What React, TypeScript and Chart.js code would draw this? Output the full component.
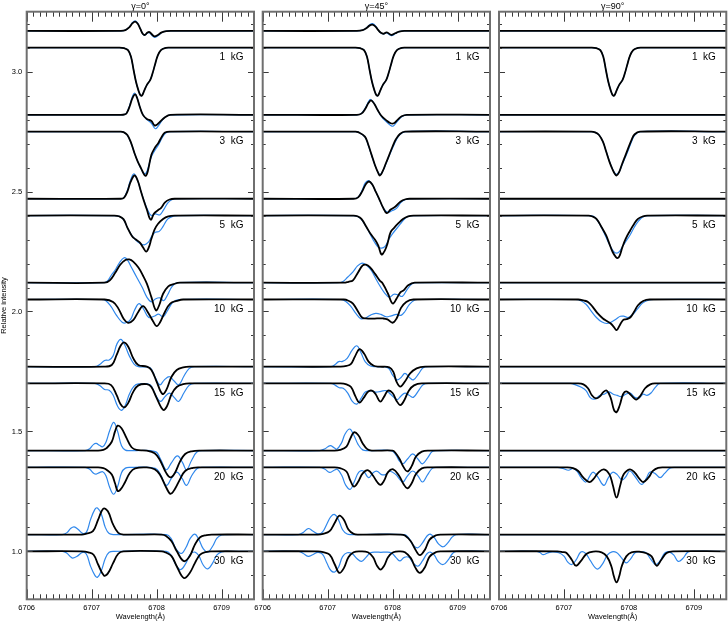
import { useEffect, useRef } from 'react';
import { Chart, registerables } from 'chart.js';

Chart.register(...registerables);

type P = number[][];

// ---------------- data ----------------
const FIELD_LABELS = ['1  kG', '3  kG', '5  kG', '10  kG', '15  kG', '20  kG', '30  kG'];
const I_BASELINES = [3.1, 2.75, 2.4, 2.05, 1.7, 1.35, 1.0];
const V_OFFSET = 0.07;
const PANEL_TITLES = ['γ=0°', 'γ=45°', 'γ=90°'];
const X_TICK_LABELS = [6706, 6707, 6708, 6709];
const Y_TICK_LABELS = [1.0, 1.5, 2.0, 2.5, 3.0];
const X_MIN = 6706;
const X_MAX = 6709.5;
const Y_MIN = 0.8;
const Y_MAX = 3.25;

const FLAT: P = [];

const I_1KG: P = [[6707.42,0],[6707.50,-0.002],[6707.56,-0.01],[6707.605,-0.037],[6707.646,-0.093],[6707.682,-0.141],[6707.718,-0.176],[6707.749,-0.197],[6707.774,-0.2],[6707.81,-0.179],[6707.851,-0.155],[6707.903,-0.134],[6707.938,-0.107],[6707.974,-0.072],[6708.015,-0.035],[6708.067,-0.01],[6708.144,-0.001],[6708.20,0]];

// gamma = 0
const G0_V_BLACK: P[] = [
  [[6707.45,0],[6707.52,0.003],[6707.58,0.015],[6707.63,0.032],[6707.67,0.039],[6707.71,0.03],[6707.75,0.008],[6707.79,-0.013],[6707.82,-0.017],[6707.86,-0.007],[6707.89,-0.005],[6707.93,-0.015],[6707.97,-0.023],[6708.02,-0.017],[6708.08,-0.006],[6708.15,-0.001],[6708.25,0]],
  [[6707.45,0],[6707.51,0.002],[6707.54,0.007],[6707.59,0.039],[6707.63,0.071],[6707.67,0.085],[6707.70,0.07],[6707.74,0.035],[6707.79,0],[6707.85,-0.017],[6707.92,-0.026],[6707.97,-0.044],[6708.01,-0.04],[6708.05,-0.03],[6708.13,-0.01],[6708.21,0]],
  [[6707.45,0],[6707.50,0.005],[6707.55,0.03],[6707.60,0.07],[6707.66,0.097],[6707.71,0.075],[6707.76,0.03],[6707.80,-0.005],[6707.85,-0.045],[6707.91,-0.087],[6707.96,-0.062],[6708.02,-0.048],[6708.07,-0.038],[6708.13,-0.015],[6708.20,-0.003],[6708.28,0]],
  [[6707.20,0],[6707.28,0.01],[6707.36,0.04],[6707.44,0.075],[6707.52,0.095],[6707.58,0.097],[6707.64,0.088],[6707.72,0.063],[6707.79,0.03],[6707.85,-0.004],[6707.92,-0.06],[6707.99,-0.115],[6708.04,-0.094],[6708.10,-0.046],[6708.18,-0.015],[6708.26,-0.006],[6708.36,0]],
  [[6707.18,0],[6707.31,0.007],[6707.385,0.049],[6707.446,0.087],[6707.497,0.101],[6707.564,0.083],[6707.641,0.035],[6707.718,0.007],[6707.85,0],[6707.92,-0.014],[6708.00,-0.062],[6708.09,-0.114],[6708.15,-0.097],[6708.23,-0.042],[6708.31,-0.014],[6708.41,-0.003],[6708.51,0]],
  [[6707.10,0],[6707.18,0.003],[6707.23,0.01],[6707.31,0.037],[6707.36,0.08],[6707.40,0.104],[6707.46,0.093],[6707.54,0.051],[6707.615,0.014],[6707.69,0.003],[6707.85,0],[6707.97,-0.011],[6708.05,-0.039],[6708.15,-0.094],[6708.215,-0.112],[6708.28,-0.094],[6708.36,-0.046],[6708.44,-0.014],[6708.54,-0.003],[6708.67,0]],
  [[6706.85,0],[6706.92,0.004],[6707.02,0.014],[6707.10,0.062],[6707.18,0.108],[6707.25,0.097],[6707.33,0.042],[6707.41,0.007],[6707.49,0],[6708.08,0],[6708.14,-0.005],[6708.23,-0.028],[6708.31,-0.069],[6708.42,-0.111],[6708.51,-0.09],[6708.59,-0.042],[6708.67,-0.011],[6708.77,-0.002],[6708.85,0]],
];
const G0_V_BLUE: P[] = [
  [[6707.45,0],[6707.52,0.003],[6707.58,0.016],[6707.63,0.035],[6707.67,0.042],[6707.71,0.032],[6707.75,0.008],[6707.79,-0.014],[6707.82,-0.018],[6707.86,-0.009],[6707.89,-0.008],[6707.93,-0.019],[6707.97,-0.027],[6708.02,-0.02],[6708.08,-0.007],[6708.15,-0.001],[6708.25,0]],
  [[6707.45,0],[6707.51,0.002],[6707.54,0.008],[6707.59,0.043],[6707.63,0.078],[6707.66,0.091],[6707.70,0.072],[6707.74,0.035],[6707.79,0],[6707.85,-0.02],[6707.92,-0.035],[6707.98,-0.058],[6708.03,-0.045],[6708.08,-0.025],[6708.14,-0.008],[6708.22,0]],
  [[6707.45,0],[6707.50,0.006],[6707.55,0.035],[6707.60,0.078],[6707.65,0.104],[6707.70,0.082],[6707.76,0.03],[6707.81,-0.01],[6707.86,-0.045],[6707.92,-0.07],[6707.98,-0.063],[6708.05,-0.067],[6708.11,-0.045],[6708.18,-0.015],[6708.25,-0.002],[6708.32,0]],
  [[6707.18,0],[6707.24,0.006],[6707.30,0.03],[6707.36,0.052],[6707.42,0.08],[6707.50,0.104],[6707.55,0.095],[6707.62,0.06],[6707.70,0.02],[6707.78,-0.02],[6707.85,-0.06],[6707.92,-0.08],[6707.98,-0.068],[6708.05,-0.063],[6708.11,-0.075],[6708.17,-0.05],[6708.24,-0.015],[6708.32,0]],
  [[6707.05,0],[6707.13,0.01],[6707.20,0.026],[6707.27,0.028],[6707.33,0.045],[6707.39,0.095],[6707.45,0.114],[6707.51,0.09],[6707.58,0.045],[6707.65,0.012],[6707.72,0],[6707.90,-0.005],[6707.98,-0.045],[6708.05,-0.076],[6708.12,-0.055],[6708.20,-0.042],[6708.27,-0.06],[6708.34,-0.076],[6708.42,-0.04],[6708.50,-0.008],[6708.58,0]],
  [[6706.90,0],[6706.97,0.008],[6707.03,0.026],[6707.07,0.03],[6707.12,0.022],[6707.17,0.016],[6707.22,0.035],[6707.28,0.085],[6707.34,0.118],[6707.40,0.08],[6707.46,0.02],[6707.52,0.002],[6707.60,0],[6707.98,-0.004],[6708.06,-0.035],[6708.15,-0.08],[6708.23,-0.05],[6708.32,-0.022],[6708.40,-0.05],[6708.46,-0.08],[6708.54,-0.04],[6708.62,-0.006],[6708.70,0]],
  [[6706.55,0],[6706.62,0.008],[6706.68,0.026],[6706.73,0.032],[6706.79,0.022],[6706.86,0.005],[6706.92,0.01],[6706.98,0.06],[6707.05,0.105],[6707.09,0.111],[6707.15,0.085],[6707.21,0.03],[6707.27,0.004],[6707.35,0],[6708.15,0],[6708.22,-0.015],[6708.30,-0.06],[6708.38,-0.079],[6708.45,-0.055],[6708.52,-0.015],[6708.59,0.002],[6708.65,-0.02],[6708.72,-0.06],[6708.79,-0.073],[6708.86,-0.05],[6708.93,-0.015],[6709.00,-0.002],[6709.08,0]],
];
const G0_I_BLACK: P[] = [
  I_1KG,
  [[6707.45,0],[6707.49,-0.002],[6707.55,-0.014],[6707.61,-0.049],[6707.66,-0.09],[6707.71,-0.125],[6707.76,-0.152],[6707.81,-0.18],[6707.84,-0.183],[6707.87,-0.159],[6707.92,-0.097],[6707.97,-0.069],[6708.03,-0.046],[6708.08,-0.021],[6708.13,-0.004],[6708.21,0]],
  [[6707.35,0],[6707.42,-0.003],[6707.49,-0.015],[6707.55,-0.05],[6707.62,-0.085],[6707.68,-0.1],[6707.74,-0.112],[6707.79,-0.132],[6707.84,-0.15],[6707.88,-0.133],[6707.92,-0.097],[6707.97,-0.058],[6708.02,-0.035],[6708.10,-0.014],[6708.18,-0.003],[6708.28,0]],
  [[6707.20,0],[6707.33,-0.01],[6707.41,-0.037],[6707.49,-0.079],[6707.56,-0.097],[6707.64,-0.086],[6707.72,-0.051],[6707.79,-0.028],[6707.87,-0.055],[6707.95,-0.093],[6708.00,-0.111],[6708.05,-0.097],[6708.13,-0.051],[6708.21,-0.017],[6708.31,-0.006],[6708.41,0]],
  [[6707.18,0],[6707.30,-0.007],[6707.385,-0.049],[6707.446,-0.087],[6707.50,-0.1],[6707.56,-0.083],[6707.64,-0.035],[6707.72,-0.008],[6707.85,-0.003],[6707.92,-0.015],[6708.00,-0.06],[6708.10,-0.11],[6708.16,-0.095],[6708.23,-0.045],[6708.31,-0.015],[6708.41,-0.003],[6708.51,0]],
  [[6707.10,0],[6707.18,-0.003],[6707.23,-0.01],[6707.31,-0.03],[6707.36,-0.066],[6707.40,-0.098],[6707.44,-0.094],[6707.51,-0.064],[6707.59,-0.022],[6707.67,-0.004],[6707.85,0],[6707.97,-0.008],[6708.05,-0.03],[6708.15,-0.085],[6708.215,-0.11],[6708.28,-0.091],[6708.36,-0.05],[6708.44,-0.015],[6708.56,-0.002],[6708.67,0]],
  [[6706.85,0],[6706.95,-0.004],[6707.03,-0.014],[6707.10,-0.055],[6707.19,-0.101],[6707.25,-0.092],[6707.33,-0.049],[6707.41,-0.01],[6707.49,0],[6708.08,0],[6708.14,-0.005],[6708.23,-0.02],[6708.31,-0.062],[6708.42,-0.111],[6708.51,-0.09],[6708.59,-0.049],[6708.67,-0.014],[6708.77,-0.002],[6708.85,0]],
];
const G0_I_BLUE: P[] = [
  I_1KG,
  [[6707.45,0],[6707.49,-0.002],[6707.55,-0.015],[6707.61,-0.05],[6707.66,-0.09],[6707.71,-0.125],[6707.76,-0.155],[6707.81,-0.175],[6707.84,-0.172],[6707.87,-0.15],[6707.92,-0.105],[6707.97,-0.08],[6708.03,-0.055],[6708.08,-0.028],[6708.14,-0.006],[6708.22,0]],
  [[6707.35,0],[6707.42,-0.003],[6707.49,-0.016],[6707.55,-0.05],[6707.62,-0.083],[6707.68,-0.102],[6707.74,-0.115],[6707.81,-0.122],[6707.87,-0.112],[6707.93,-0.085],[6707.98,-0.07],[6708.04,-0.066],[6708.10,-0.045],[6708.17,-0.015],[6708.25,-0.003],[6708.33,0]],
  [[6707.15,0],[6707.22,-0.005],[6707.30,-0.03],[6707.38,-0.065],[6707.47,-0.095],[6707.53,-0.097],[6707.60,-0.083],[6707.66,-0.045],[6707.73,-0.017],[6707.80,-0.04],[6707.88,-0.075],[6707.96,-0.07],[6708.03,-0.061],[6708.10,-0.072],[6708.17,-0.045],[6708.25,-0.012],[6708.35,0]],
  [[6707.05,0],[6707.13,-0.01],[6707.20,-0.025],[6707.27,-0.028],[6707.33,-0.048],[6707.40,-0.095],[6707.46,-0.112],[6707.52,-0.09],[6707.58,-0.045],[6707.65,-0.012],[6707.72,-0.002],[6707.90,-0.006],[6707.98,-0.045],[6708.06,-0.075],[6708.13,-0.055],[6708.20,-0.04],[6708.27,-0.058],[6708.34,-0.075],[6708.42,-0.04],[6708.50,-0.008],[6708.58,0]],
  [[6706.90,0],[6706.97,-0.008],[6707.03,-0.024],[6707.07,-0.028],[6707.12,-0.022],[6707.17,-0.018],[6707.22,-0.035],[6707.28,-0.085],[6707.34,-0.112],[6707.40,-0.08],[6707.46,-0.022],[6707.52,-0.003],[6707.60,0],[6707.98,-0.004],[6708.06,-0.03],[6708.15,-0.075],[6708.23,-0.045],[6708.31,-0.02],[6708.39,-0.045],[6708.46,-0.075],[6708.54,-0.035],[6708.62,-0.006],[6708.70,0]],
  [[6706.55,0],[6706.62,-0.008],[6706.68,-0.024],[6706.71,-0.028],[6706.78,-0.02],[6706.86,-0.004],[6706.92,-0.012],[6706.98,-0.06],[6707.05,-0.1],[6707.09,-0.108],[6707.15,-0.08],[6707.21,-0.03],[6707.27,-0.004],[6707.35,0],[6708.15,0],[6708.22,-0.015],[6708.30,-0.058],[6708.37,-0.076],[6708.45,-0.05],[6708.52,-0.012],[6708.59,-0.003],[6708.65,-0.018],[6708.72,-0.058],[6708.79,-0.073],[6708.86,-0.05],[6708.93,-0.015],[6709.00,-0.002],[6709.08,0]],
];

// gamma = 45
const G45_V_BLACK: P[] = [
  [[6707.45,0],[6707.54,0.003],[6707.60,0.012],[6707.65,0.023],[6707.69,0.026],[6707.74,0.017],[6707.78,0.003],[6707.82,-0.008],[6707.86,-0.012],[6707.91,-0.006],[6707.98,-0.017],[6708.04,-0.01],[6708.10,-0.003],[6708.18,0]],
  [[6707.45,0],[6707.52,0.005],[6707.58,0.025],[6707.63,0.05],[6707.67,0.06],[6707.72,0.045],[6707.77,0.02],[6707.83,-0.005],[6707.90,-0.022],[6707.97,-0.035],[6708.02,-0.035],[6708.08,-0.02],[6708.14,-0.006],[6708.22,0]],
  [[6707.40,0],[6707.47,0.006],[6707.53,0.03],[6707.59,0.062],[6707.64,0.072],[6707.69,0.058],[6707.74,0.03],[6707.79,0.002],[6707.85,-0.035],[6707.91,-0.06],[6707.97,-0.045],[6708.04,-0.033],[6708.12,-0.012],[6708.20,-0.002],[6708.27,0]],
  [[6707.25,0],[6707.32,0.004],[6707.39,0.01],[6707.47,0.044],[6707.54,0.072],[6707.59,0.075],[6707.65,0.065],[6707.73,0.037],[6707.80,0.01],[6707.85,-0.004],[6707.93,-0.046],[6707.98,-0.08],[6708.01,-0.087],[6708.06,-0.067],[6708.12,-0.04],[6708.17,-0.032],[6708.24,-0.011],[6708.34,0]],
  [[6707.20,0],[6707.29,0.003],[6707.36,0.012],[6707.42,0.042],[6707.49,0.073],[6707.56,0.055],[6707.63,0.021],[6707.71,0.004],[6707.80,0],[6707.95,-0.003],[6708.01,-0.021],[6708.06,-0.062],[6708.12,-0.083],[6708.19,-0.062],[6708.27,-0.028],[6708.37,-0.007],[6708.50,0]],
  [[6707.10,0],[6707.19,0.003],[6707.29,0.017],[6707.35,0.051],[6707.405,0.076],[6707.47,0.065],[6707.54,0.03],[6707.61,0.006],[6707.68,0],[6708.00,0],[6708.04,-0.008],[6708.11,-0.036],[6708.17,-0.069],[6708.226,-0.087],[6708.29,-0.067],[6708.36,-0.025],[6708.45,-0.004],[6708.57,0]],
  [[6706.85,0],[6706.93,0.003],[6707.03,0.014],[6707.11,0.049],[6707.18,0.079],[6707.25,0.062],[6707.32,0.021],[6707.40,0.003],[6707.48,0],[6708.12,0],[6708.19,-0.004],[6708.28,-0.028],[6708.35,-0.062],[6708.42,-0.086],[6708.50,-0.062],[6708.57,-0.021],[6708.67,-0.003],[6708.75,0]],
];
const G45_V_BLUE: P[] = [
  [[6707.45,0],[6707.54,0.003],[6707.60,0.013],[6707.65,0.026],[6707.69,0.03],[6707.74,0.02],[6707.78,0.003],[6707.82,-0.009],[6707.86,-0.013],[6707.91,-0.008],[6707.98,-0.02],[6708.04,-0.012],[6708.10,-0.003],[6708.18,0]],
  [[6707.45,0],[6707.52,0.006],[6707.58,0.028],[6707.63,0.055],[6707.66,0.064],[6707.71,0.05],[6707.77,0.02],[6707.83,-0.008],[6707.90,-0.028],[6707.97,-0.044],[6708.01,-0.047],[6708.07,-0.028],[6708.14,-0.008],[6708.22,0]],
  [[6707.40,0],[6707.47,0.007],[6707.53,0.035],[6707.58,0.066],[6707.63,0.076],[6707.68,0.062],[6707.74,0.03],[6707.80,-0.005],[6707.86,-0.04],[6707.93,-0.057],[6707.99,-0.05],[6708.06,-0.04],[6708.13,-0.015],[6708.21,-0.002],[6708.28,0]],
  [[6707.15,0],[6707.23,0.004],[6707.31,0.024],[6707.39,0.045],[6707.46,0.07],[6707.53,0.082],[6707.59,0.075],[6707.67,0.052],[6707.77,0.003],[6707.87,-0.04],[6707.95,-0.06],[6708.02,-0.048],[6708.08,-0.05],[6708.15,-0.057],[6708.22,-0.03],[6708.30,-0.004],[6708.38,0]],
  [[6707.05,0],[6707.12,0.01],[6707.17,0.021],[6707.23,0.022],[6707.30,0.035],[6707.38,0.07],[6707.45,0.087],[6707.51,0.06],[6707.58,0.02],[6707.66,0.003],[6707.75,0],[6707.93,-0.005],[6708.00,-0.035],[6708.07,-0.055],[6708.13,-0.045],[6708.19,-0.028],[6708.26,-0.045],[6708.32,-0.055],[6708.40,-0.03],[6708.47,-0.005],[6708.55,0]],
  [[6706.88,0],[6706.96,0.008],[6707.04,0.021],[6707.10,0.012],[6707.14,0.006],[6707.21,0.03],[6707.27,0.07],[6707.34,0.09],[6707.40,0.066],[6707.47,0.025],[6707.54,0.003],[6707.62,0],[6707.98,0],[6708.05,-0.018],[6708.11,-0.045],[6708.16,-0.055],[6708.23,-0.035],[6708.31,-0.014],[6708.39,-0.035],[6708.46,-0.055],[6708.54,-0.03],[6708.61,-0.004],[6708.68,0]],
  [[6706.55,0],[6706.62,0.008],[6706.70,0.025],[6706.77,0.015],[6706.85,0.003],[6706.92,0.01],[6706.99,0.045],[6707.05,0.075],[6707.11,0.083],[6707.17,0.06],[6707.23,0.02],[6707.30,0.002],[6707.38,0],[6708.18,0],[6708.25,-0.015],[6708.32,-0.045],[6708.39,-0.055],[6708.46,-0.035],[6708.53,-0.006],[6708.58,0.002],[6708.64,-0.012],[6708.71,-0.04],[6708.78,-0.051],[6708.85,-0.035],[6708.92,-0.01],[6708.98,0]],
];
const G45_I_BLACK: P[] = [
  I_1KG,
  [[6707.42,0],[6707.47,-0.002],[6707.574,-0.021],[6707.626,-0.055],[6707.677,-0.097],[6707.728,-0.139],[6707.78,-0.173],[6707.805,-0.183],[6707.846,-0.166],[6707.897,-0.132],[6707.949,-0.097],[6708.0,-0.062],[6708.051,-0.032],[6708.113,-0.01],[6708.19,0]],
  [[6707.40,0],[6707.46,-0.003],[6707.52,-0.014],[6707.60,-0.049],[6707.66,-0.076],[6707.73,-0.101],[6707.78,-0.125],[6707.83,-0.162],[6707.88,-0.146],[6707.92,-0.118],[6707.97,-0.069],[6708.03,-0.049],[6708.09,-0.032],[6708.16,-0.014],[6708.24,-0.003],[6708.32,0]],
  [[6707.25,0],[6707.32,-0.005],[6707.39,-0.017],[6707.47,-0.051],[6707.53,-0.075],[6707.59,-0.079],[6707.68,-0.08],[6707.76,-0.079],[6707.85,-0.079],[6707.92,-0.083],[6708.00,-0.097],[6708.06,-0.08],[6708.13,-0.035],[6708.21,-0.01],[6708.32,0]],
  [[6707.20,0],[6707.29,-0.004],[6707.36,-0.015],[6707.43,-0.055],[6707.49,-0.08],[6707.55,-0.062],[6707.62,-0.035],[6707.68,-0.03],[6707.74,-0.045],[6707.81,-0.076],[6707.87,-0.055],[6707.93,-0.03],[6708.00,-0.04],[6708.06,-0.072],[6708.12,-0.09],[6708.18,-0.07],[6708.25,-0.03],[6708.33,-0.008],[6708.45,0]],
  [[6707.10,0],[6707.19,-0.003],[6707.29,-0.017],[6707.35,-0.055],[6707.405,-0.08],[6707.47,-0.06],[6707.54,-0.025],[6707.625,-0.012],[6707.70,-0.035],[6707.765,-0.062],[6707.815,-0.073],[6707.87,-0.055],[6707.93,-0.02],[6708.01,-0.008],[6708.10,-0.035],[6708.17,-0.07],[6708.226,-0.087],[6708.29,-0.068],[6708.36,-0.028],[6708.45,-0.004],[6708.57,0]],
  [[6706.85,0],[6706.93,-0.003],[6707.03,-0.014],[6707.11,-0.055],[6707.18,-0.09],[6707.25,-0.07],[6707.32,-0.025],[6707.40,-0.004],[6707.50,0],[6707.62,-0.004],[6707.70,-0.025],[6707.76,-0.06],[6707.815,-0.076],[6707.87,-0.06],[6707.93,-0.025],[6708.01,-0.004],[6708.12,0],[6708.19,-0.004],[6708.28,-0.028],[6708.35,-0.068],[6708.42,-0.09],[6708.50,-0.065],[6708.57,-0.022],[6708.67,-0.003],[6708.75,0]],
];
const G45_I_BLUE: P[] = [
  I_1KG,
  [[6707.42,0],[6707.47,-0.002],[6707.574,-0.022],[6707.626,-0.057],[6707.677,-0.099],[6707.728,-0.14],[6707.78,-0.172],[6707.81,-0.178],[6707.846,-0.166],[6707.897,-0.135],[6707.949,-0.1],[6708.0,-0.068],[6708.051,-0.038],[6708.113,-0.012],[6708.20,0]],
  [[6707.40,0],[6707.46,-0.004],[6707.52,-0.016],[6707.60,-0.05],[6707.66,-0.08],[6707.72,-0.11],[6707.78,-0.132],[6707.83,-0.136],[6707.88,-0.13],[6707.94,-0.1],[6708.00,-0.075],[6708.06,-0.055],[6708.12,-0.035],[6708.19,-0.012],[6708.26,-0.002],[6708.33,0]],
  [[6707.20,0],[6707.28,-0.008],[6707.36,-0.03],[6707.44,-0.06],[6707.51,-0.08],[6707.58,-0.078],[6707.66,-0.065],[6707.74,-0.058],[6707.82,-0.062],[6707.90,-0.072],[6707.98,-0.068],[6708.06,-0.062],[6708.13,-0.066],[6708.19,-0.05],[6708.26,-0.02],[6708.34,-0.002],[6708.40,0]],
  [[6707.05,0],[6707.12,-0.008],[6707.18,-0.018],[6707.24,-0.02],[6707.31,-0.04],[6707.38,-0.075],[6707.45,-0.086],[6707.52,-0.06],[6707.58,-0.036],[6707.66,-0.03],[6707.74,-0.036],[6707.82,-0.033],[6707.90,-0.03],[6707.97,-0.045],[6708.07,-0.067],[6708.13,-0.052],[6708.19,-0.04],[6708.26,-0.05],[6708.32,-0.058],[6708.40,-0.03],[6708.47,-0.005],[6708.55,0]],
  [[6706.88,0],[6706.96,-0.008],[6707.03,-0.021],[6707.10,-0.012],[6707.15,-0.008],[6707.22,-0.035],[6707.28,-0.075],[6707.35,-0.091],[6707.41,-0.06],[6707.48,-0.02],[6707.55,-0.015],[6707.63,-0.043],[6707.70,-0.022],[6707.76,-0.016],[6707.83,-0.03],[6707.89,-0.03],[6707.96,-0.016],[6708.05,-0.03],[6708.11,-0.05],[6708.16,-0.061],[6708.23,-0.035],[6708.31,-0.015],[6708.39,-0.035],[6708.46,-0.061],[6708.54,-0.03],[6708.61,-0.004],[6708.68,0]],
  [[6706.55,0],[6706.62,-0.008],[6706.70,-0.021],[6706.77,-0.014],[6706.85,-0.004],[6706.92,-0.012],[6706.99,-0.05],[6707.05,-0.08],[6707.11,-0.086],[6707.17,-0.065],[6707.23,-0.022],[6707.30,-0.006],[6707.38,-0.01],[6707.45,-0.03],[6707.52,-0.042],[6707.59,-0.025],[6707.66,-0.006],[6707.74,-0.003],[6707.82,-0.004],[6707.90,-0.003],[6707.98,-0.006],[6708.05,-0.025],[6708.11,-0.04],[6708.18,-0.025],[6708.25,-0.025],[6708.32,-0.05],[6708.39,-0.062],[6708.46,-0.04],[6708.53,-0.01],[6708.58,-0.003],[6708.64,-0.015],[6708.71,-0.045],[6708.78,-0.055],[6708.85,-0.038],[6708.92,-0.01],[6708.98,0]],
];

// gamma = 90
const G90_V_BLACK: P[] = [FLAT, FLAT, FLAT, FLAT, FLAT, FLAT, FLAT];
const G90_V_BLUE: P[] = [FLAT, FLAT, FLAT, FLAT, FLAT, FLAT, FLAT];
const G90_I_BLACK: P[] = [
  I_1KG,
  [[6707.42,0],[6707.48,-0.003],[6707.54,-0.014],[6707.60,-0.042],[6707.65,-0.083],[6707.70,-0.125],[6707.75,-0.159],[6707.785,-0.177],[6707.81,-0.183],[6707.85,-0.169],[6707.89,-0.139],[6707.94,-0.104],[6707.99,-0.069],[6708.04,-0.035],[6708.09,-0.011],[6708.17,0]],
  [[6707.38,0],[6707.43,-0.003],[6707.50,-0.014],[6707.58,-0.049],[6707.65,-0.083],[6707.70,-0.118],[6707.75,-0.152],[6707.80,-0.173],[6707.83,-0.177],[6707.86,-0.166],[6707.90,-0.132],[6707.95,-0.097],[6708.02,-0.062],[6708.08,-0.035],[6708.14,-0.014],[6708.22,-0.003],[6708.28,0]],
  [[6707.22,0],[6707.30,-0.004],[6707.37,-0.01],[6707.44,-0.03],[6707.52,-0.058],[6707.60,-0.079],[6707.66,-0.09],[6707.72,-0.1],[6707.77,-0.115],[6707.81,-0.128],[6707.86,-0.107],[6707.91,-0.086],[6707.96,-0.082],[6708.02,-0.075],[6708.08,-0.051],[6708.14,-0.024],[6708.22,-0.006],[6708.32,0]],
  [[6707.22,0],[6707.30,-0.004],[6707.37,-0.02],[6707.43,-0.049],[6707.49,-0.062],[6707.55,-0.055],[6707.61,-0.035],[6707.66,-0.03],[6707.72,-0.06],[6707.77,-0.11],[6707.81,-0.12],[6707.86,-0.09],[6707.91,-0.045],[6707.96,-0.033],[6708.02,-0.045],[6708.08,-0.062],[6708.12,-0.067],[6708.18,-0.05],[6708.25,-0.02],[6708.33,-0.004],[6708.40,0]],
  [[6707.05,0],[6707.14,-0.003],[6707.22,-0.015],[6707.30,-0.043],[6707.39,-0.061],[6707.45,-0.05],[6707.53,-0.022],[6707.615,-0.008],[6707.70,-0.029],[6707.75,-0.071],[6707.81,-0.126],[6707.87,-0.071],[6707.92,-0.029],[6708.015,-0.008],[6708.09,-0.022],[6708.17,-0.05],[6708.22,-0.061],[6708.30,-0.043],[6708.37,-0.015],[6708.45,-0.002],[6708.55,0]],
  [[6706.90,0],[6706.98,-0.003],[6707.04,-0.007],[6707.12,-0.035],[6707.185,-0.06],[6707.256,-0.042],[6707.35,-0.01],[6707.45,-0.001],[6707.58,-0.004],[6707.66,-0.021],[6707.73,-0.062],[6707.77,-0.105],[6707.81,-0.129],[6707.85,-0.105],[6707.89,-0.062],[6707.96,-0.021],[6708.04,-0.004],[6708.18,-0.002],[6708.27,-0.008],[6708.35,-0.021],[6708.426,-0.06],[6708.50,-0.035],[6708.58,-0.007],[6708.68,0]],
];
const G90_I_BLUE: P[] = [
  I_1KG,
  [[6707.42,0],[6707.48,-0.003],[6707.54,-0.014],[6707.60,-0.042],[6707.65,-0.082],[6707.70,-0.123],[6707.75,-0.157],[6707.785,-0.174],[6707.81,-0.178],[6707.85,-0.168],[6707.89,-0.142],[6707.94,-0.11],[6707.99,-0.078],[6708.04,-0.042],[6708.09,-0.014],[6708.18,0]],
  [[6707.40,0],[6707.48,-0.008],[6707.56,-0.04],[6707.64,-0.085],[6707.70,-0.12],[6707.76,-0.148],[6707.81,-0.157],[6707.86,-0.148],[6707.91,-0.125],[6707.96,-0.105],[6708.02,-0.08],[6708.08,-0.05],[6708.15,-0.022],[6708.22,-0.005],[6708.30,0]],
  [[6707.18,0],[6707.26,-0.005],[6707.34,-0.02],[6707.42,-0.048],[6707.50,-0.075],[6707.58,-0.093],[6707.66,-0.1],[6707.73,-0.094],[6707.80,-0.082],[6707.87,-0.07],[6707.93,-0.07],[6707.99,-0.075],[6708.06,-0.062],[6708.13,-0.04],[6708.21,-0.015],[6708.30,-0.003],[6708.38,0]],
  [[6707.10,0],[6707.18,-0.006],[6707.26,-0.015],[6707.34,-0.03],[6707.41,-0.06],[6707.48,-0.065],[6707.55,-0.05],[6707.62,-0.045],[6707.69,-0.035],[6707.76,-0.045],[6707.82,-0.05],[6707.88,-0.055],[6707.95,-0.045],[6708.02,-0.04],[6708.09,-0.058],[6708.16,-0.06],[6708.22,-0.045],[6708.28,-0.05],[6708.34,-0.04],[6708.41,-0.015],[6708.48,0]],
  [[6706.90,0],[6706.98,-0.004],[6707.07,-0.012],[6707.14,-0.004],[6707.20,-0.015],[6707.27,-0.045],[6707.34,-0.061],[6707.40,-0.035],[6707.45,-0.02],[6707.52,-0.04],[6707.615,-0.075],[6707.68,-0.045],[6707.75,-0.02],[6707.82,-0.03],[6707.89,-0.052],[6707.95,-0.04],[6708.015,-0.015],[6708.10,-0.04],[6708.195,-0.071],[6708.27,-0.045],[6708.32,-0.02],[6708.40,-0.025],[6708.48,-0.043],[6708.55,-0.025],[6708.63,-0.004],[6708.70,0]],
  [[6706.58,0],[6706.63,-0.005],[6706.68,-0.014],[6706.74,-0.008],[6706.82,-0.002],[6706.92,-0.006],[6707.00,-0.02],[6707.06,-0.045],[6707.12,-0.055],[6707.19,-0.035],[6707.26,-0.003],[6707.33,-0.008],[6707.41,-0.04],[6707.48,-0.068],[6707.53,-0.073],[6707.60,-0.05],[6707.67,-0.015],[6707.74,-0.002],[6707.81,-0.005],[6707.88,-0.025],[6707.96,-0.048],[6708.03,-0.03],[6708.10,-0.005],[6708.18,-0.003],[6708.26,-0.005],[6708.33,-0.03],[6708.41,-0.055],[6708.48,-0.04],[6708.55,-0.008],[6708.62,-0.002],[6708.69,-0.015],[6708.76,-0.042],[6708.83,-0.03],[6708.90,-0.005],[6708.95,0]],
];

const PANELS = [
  { title: PANEL_TITLES[0], vBlack: G0_V_BLACK, vBlue: G0_V_BLUE, iBlack: G0_I_BLACK, iBlue: G0_I_BLUE },
  { title: PANEL_TITLES[1], vBlack: G45_V_BLACK, vBlue: G45_V_BLUE, iBlack: G45_I_BLACK, iBlue: G45_I_BLUE },
  { title: PANEL_TITLES[2], vBlack: G90_V_BLACK, vBlue: G90_V_BLUE, iBlack: G90_I_BLACK, iBlue: G90_I_BLUE },
];

// ---------------- layout / style ----------------
const W = 728;
const H = 622;
const PANEL_LEFT = [26.7, 262.7, 499];
const PANEL_RIGHT = [254, 490, 726.3];
const PLOT_TOP = 11.7;
const PLOT_BOTTOM = 599.3;
const BLUE = 'rgb(48,136,236)';
const BLACK = '#000000';
const FONT = '"Liberation Sans", Arial, Helvetica, sans-serif';

function series(pts: P, base: number) {
  return [
    { x: X_MIN, y: base },
    ...pts.map(([x, v]) => ({ x, y: base + v })),
    { x: X_MAX, y: base },
  ];
}

function decorPlugin(panel: number) {
  return {
    id: 'decor' + panel,
    afterDraw(chart: any) {
      const { ctx, chartArea: a, scales } = chart;
      const xs = scales.x;
      const ys = scales.y;
      ctx.save();
      // inward ticks
      ctx.strokeStyle = '#3a3a3a';
      ctx.lineWidth = 1;
      ctx.beginPath();
      const nx = Math.round((X_MAX - X_MIN) * 10);
      for (let i = 0; i <= nx; i++) {
        const v = X_MIN + i / 10;
        const px = Math.round(xs.getPixelForValue(v)) + 0.5;
        const len = i % 10 === 0 ? 10 : 5;
        ctx.moveTo(px, a.bottom);
        ctx.lineTo(px, a.bottom - len);
        ctx.moveTo(px, a.top);
        ctx.lineTo(px, a.top + len);
      }
      for (let i = 8; i <= 32; i++) {
        const v = i / 10;
        const py = Math.round(ys.getPixelForValue(v)) + 0.5;
        const len = i % 5 === 0 ? 6 : 3;
        ctx.moveTo(a.left, py);
        ctx.lineTo(a.left + len, py);
        ctx.moveTo(a.right, py);
        ctx.lineTo(a.right - len, py);
      }
      ctx.stroke();
      // frame
      ctx.strokeStyle = '#6f6f6f';
      ctx.lineWidth = 2;
      ctx.strokeRect(a.left, a.top, a.right - a.left, a.bottom - a.top);

      ctx.fillStyle = '#000';
      // x tick labels
      ctx.font = '7.5px ' + FONT;
      ctx.textAlign = 'center';
      ctx.textBaseline = 'alphabetic';
      X_TICK_LABELS.forEach((v) => {
        ctx.fillText(String(v), xs.getPixelForValue(v), a.bottom + 11);
      });
      // x title
      ctx.fillText('Wavelength(Å)', (a.left + a.right) / 2, a.bottom + 19.5);
      // panel title
      ctx.font = '9px ' + FONT;
      ctx.fillText(PANELS[panel].title, (a.left + a.right) / 2, 8.5);
      // field labels
      ctx.font = '10px ' + FONT;
      ctx.textAlign = 'right';
      FIELD_LABELS.forEach((lab, k) => {
        ctx.fillText(lab, a.right - 10.5, ys.getPixelForValue(I_BASELINES[k]) + 12.3);
      });
      if (panel === 0) {
        ctx.font = '7.5px ' + FONT;
        ctx.textAlign = 'right';
        Y_TICK_LABELS.forEach((v) => {
          ctx.fillText(v.toFixed(1), a.left - 4.5, ys.getPixelForValue(v) + 2.7);
        });
        ctx.save();
        ctx.translate(6.3, (a.top + a.bottom) / 2);
        ctx.rotate(-Math.PI / 2);
        ctx.textAlign = 'center';
        ctx.fillText('Relative intensity', 0, 0);
        ctx.restore();
      }
      ctx.restore();
    },
  };
}

function Panel({ index }: { index: number }) {
  const ref = useRef<HTMLCanvasElement | null>(null);
  useEffect(() => {
    if (!ref.current) return;
    const p = PANELS[index];
    const datasets: any[] = [];
    I_BASELINES.forEach((base, k) => {
      const vBase = base + V_OFFSET;
      datasets.push(
        { data: series(p.iBlue[k], base), borderColor: BLUE, borderWidth: 1.2, order: 1 },
        { data: series(p.vBlue[k], vBase), borderColor: BLUE, borderWidth: 1.2, order: 1 },
        { data: series(p.iBlack[k], base), borderColor: BLACK, borderWidth: 1.8, order: 0 },
        { data: series(p.vBlack[k], vBase), borderColor: BLACK, borderWidth: 1.8, order: 0 },
      );
    });
    const chart = new Chart(ref.current, {
      type: 'line',
      data: { datasets },
      options: {
        responsive: false,
        animation: false,
        events: [],
        devicePixelRatio: 1,
        layout: {
          padding: {
            left: PANEL_LEFT[index],
            right: W - PANEL_RIGHT[index],
            top: PLOT_TOP,
            bottom: H - PLOT_BOTTOM,
          },
        },
        elements: {
          point: { radius: 0 },
          line: { tension: 0.4, cubicInterpolationMode: 'default', fill: false, borderCapStyle: 'round', borderJoinStyle: 'round' },
        },
        plugins: { legend: { display: false }, tooltip: { enabled: false } },
        scales: {
          x: { type: 'linear', min: X_MIN, max: X_MAX, display: false },
          y: { type: 'linear', min: Y_MIN, max: Y_MAX, display: false },
        },
      } as any,
      plugins: [decorPlugin(index)],
    });
    return () => chart.destroy();
  }, [index]);
  return (
    <canvas
      ref={ref}
      width={W}
      height={H}
      style={{ position: 'absolute', left: 0, top: 0, width: W, height: H }}
    />
  );
}

export default function App() {
  return (
    <div style={{ position: 'absolute', left: 0, top: 0, width: W, height: H, background: '#fff' }}>
      <Panel index={0} />
      <Panel index={1} />
      <Panel index={2} />
    </div>
  );
}
